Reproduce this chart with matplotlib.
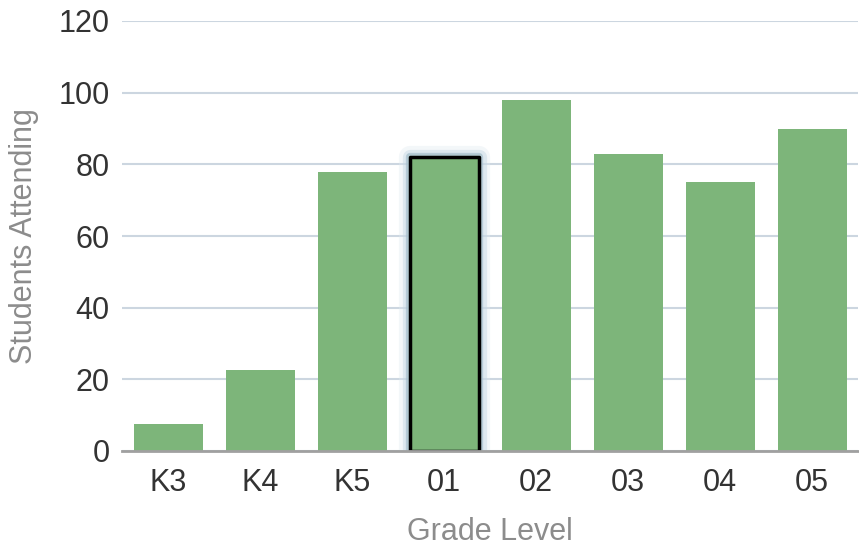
import matplotlib
matplotlib.use('Agg')

import matplotlib.pyplot as plt
import matplotlib.patheffects as pe
import numpy as np

grades = ["K3", "K4", "K5", "01", "02", "03", "04", "05"]
students = [7.5, 22.5, 78, 82, 98, 83, 75, 90]
highlight = "01"

plt.rcParams['font.family'] = ['Liberation Sans', 'DejaVu Sans']

fig = plt.figure(figsize=(8.59, 5.46), dpi=100)
ax = fig.add_axes([122 / 859, 1 - 451 / 546, 736 / 859, 430 / 546])

x = np.arange(len(grades))
bars = ax.bar(x, students, width=0.75, color='#7db57a', zorder=3)

# hovered bar: black outline with soft bluish glow
hb = bars[grades.index(highlight)]
hb.set_edgecolor('black')
hb.set_linewidth(2.5)
hb.set_joinstyle('round')
hb.set_path_effects([
	pe.Stroke(linewidth=16, foreground='#dfe9f0', alpha=0.35),
	pe.Stroke(linewidth=11, foreground='#c4d7e3', alpha=0.45),
	pe.Stroke(linewidth=6, foreground='#9fb9c9', alpha=0.6),
	pe.Normal(),
])
hb.set_zorder(4)
# lighter inner rim of the hovered bar
ax.bar(x[grades.index(highlight)], students[grades.index(highlight)], width=0.75,
	color='none', edgecolor='#a3cc9f', linewidth=4, zorder=3.5, alpha=0.6)

ax.set_xlim(-0.5, len(grades) - 0.5)
ax.set_ylim(0, 120)
ax.set_yticks(np.arange(0, 121, 20))
ax.set_xticks(x)
ax.set_xticklabels(grades)

ax.grid(axis='y', color='#ccd6e0', linewidth=1.5, zorder=0)
for s in ['top', 'right', 'left']:
	ax.spines[s].set_visible(False)
ax.spines['bottom'].set_color('#a0a0a0')
ax.spines['bottom'].set_linewidth(2)
ax.spines['bottom'].set_zorder(5)

ax.tick_params(axis='both', length=0, labelsize=22, labelcolor='#333333')
ax.tick_params(axis='x', pad=12)
ax.tick_params(axis='y', pad=9)

ax.set_xlabel("Grade Level", fontsize=22, color='#8c8c8c', labelpad=14)
ax.set_ylabel("Students Attending", fontsize=22, color='#8c8c8c', labelpad=14)

fig.savefig("out.png", dpi=100)
